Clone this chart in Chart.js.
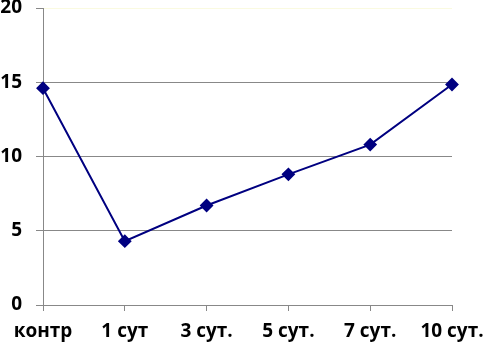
<!DOCTYPE html>
<html><head><meta charset="utf-8">
<script src="https://cdn.jsdelivr.net/npm/chart.js@4"></script>
<style>html,body{margin:0;padding:0;background:#fff}#wrap{width:484px;height:348px;position:relative}</style>
</head><body><div id="wrap"><canvas id="c" width="484" height="348"></canvas></div>
<script>
const categories = ["контр", "1 сут", "3 сут.", "5 сут.", "7 сут.", "10 сут."];
const values = [14.6, 4.3, 6.7, 8.8, 10.8, 14.85];
const yTicks = [0, 5, 10, 15, 20];

const font = {family: "'Open Sans', 'Liberation Sans', sans-serif", size: 19, weight: 'bold'};
new Chart(document.getElementById('c'), {
  type: 'line',
  data: {labels: categories, datasets: [{
    data: values, borderColor: '#000080', backgroundColor: '#000080', borderWidth: 2,
    pointStyle: 'rectRot', pointRadius: 5.5, pointHoverRadius: 5.5, tension: 0, fill: false
  }]},
  options: {
    responsive: false, animation: false,
    plugins: {legend: {display: false}, tooltip: {enabled: false}},
    layout: {padding: {top: 8, right: 32, left: 0, bottom: 0}},
    scales: {
      x: {
        offset: false,
        grid: {display: true, drawOnChartArea: false, color: '#888', tickLength: 6, tickColor: '#888'},
        border: {color: '#888', width: 1},
        ticks: {color: '#000', font: font, padding: 9, maxRotation: 0, autoSkip: false},
        afterFit: s => { s.height = 43; s.paddingLeft = 0; s.paddingRight = 0; }
      },
      y: {
        min: 0, max: 20,
        afterBuildTicks: s => { s.ticks = yTicks.map(v => ({value: v})); },
        grid: {color: c => (c.tick && c.tick.value === 20) ? '#fafae0' : (c.tick && c.tick.value === 0) ? 'rgba(0,0,0,0)' : '#888',
               tickLength: 7, tickColor: '#888'},
        border: {color: '#888', width: 1},
        ticks: {color: '#000', font: font, padding: 14},
        afterFit: s => { s.width = 43; s.paddingTop = 0; s.paddingBottom = 0; }
      }
    }
  }
});
</script></body></html>
